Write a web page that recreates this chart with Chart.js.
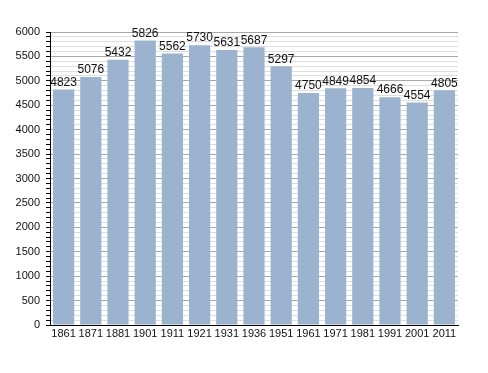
<!DOCTYPE html>
<html>
<head>
<meta charset="utf-8">
<script src="https://cdn.jsdelivr.net/npm/chart.js@4/dist/chart.umd.min.js"></script>
<style>
  html, body { margin: 0; padding: 0; background: #fff; }
  #wrap { width: 488px; height: 373px; }
</style>
</head>
<body>
<div id="wrap"><canvas id="pop"></canvas></div>
<script>
const years = ['1861', '1871', '1881', '1901', '1911', '1921', '1931', '1936', '1951', '1961', '1971', '1981', '1991', '2001', '2011'];
const population = [4823, 5076, 5432, 5826, 5562, 5730, 5631, 5687, 5297, 4750, 4849, 4854, 4666, 4554, 4805];
const yMax = 6000;
const yMajor = 500;
const yMinor = 100;

const font = { family: '"Liberation Sans", Arial, sans-serif', size: 11 };

// value written above every bar
const barLabels = {
    id: 'barLabels',
    afterDatasetsDraw(chart) {
        const ctx = chart.ctx;
        const meta = chart.getDatasetMeta(0);
        ctx.save();
        ctx.font = '12px ' + font.family;
        ctx.fillStyle = '#111';
        ctx.textAlign = 'center';
        ctx.textBaseline = 'bottom';
        meta.data.forEach((bar, i) => {
            ctx.fillText(String(population[i]), bar.x, bar.y - 1);
        });
        ctx.restore();
    }
};

new Chart(document.getElementById('pop'), {
    type: 'bar',
    data: {
        labels: years,
        datasets: [{
            data: population,
            backgroundColor: '#9cb3cf',
            borderWidth: 0,
            barPercentage: 0.78,
            categoryPercentage: 1
        }]
    },
    options: {
        responsive: true,
        maintainAspectRatio: false,
        animation: false,
        layout: { padding: { top: 32, right: 30, left: 0, bottom: 0 } },
        plugins: { legend: { display: false }, tooltip: { enabled: false } },
        scales: {
            x: {
                grid: { display: false, drawTicks: false },
                border: { color: '#000', width: 1 },
                ticks: { color: '#111', font: font, padding: 2, maxRotation: 0, autoSkip: false },
                afterFit(scale) { scale.height = 48; }
            },
            y: {
                min: 0,
                max: yMax,
                grid: {
                    color: c => (c.tick && c.tick.value % yMajor === 0) ? '#a8a8a8' : '#dedede',
                    tickColor: '#000',
                    tickLength: 4,
                    tickWidth: 1
                },
                border: { color: '#000', width: 1 },
                ticks: {
                    stepSize: yMinor,
                    autoSkip: false,
                    color: '#111',
                    font: font,
                    padding: 6,
                    callback: v => (v % yMajor === 0) ? String(v) : ''
                },
                afterFit(scale) { scale.width = 50; }
            }
        }
    },
    plugins: [barLabels]
});
</script>
</body>
</html>
